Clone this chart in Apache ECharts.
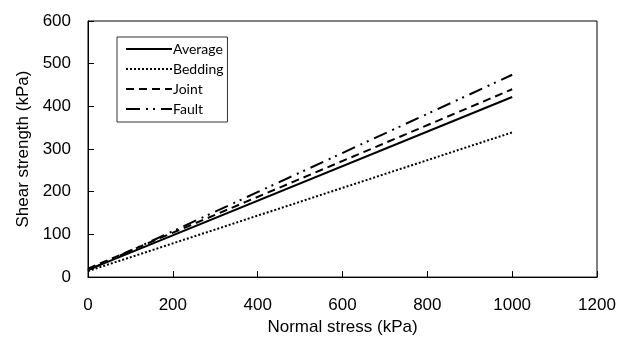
<!DOCTYPE html>
<html><head><meta charset="utf-8">
<script src="https://cdn.jsdelivr.net/npm/echarts@6/dist/echarts.min.js"></script>
<style>html,body{margin:0;padding:0;background:#fff}#c{width:628px;height:341px}</style>
</head><body><div id="c"></div>
<script>
const normalStress = [0, 1000];
const seriesNames = ["Average", "Bedding", "Joint", "Fault"];
const averageVals = [17, 422];
const beddingVals = [14, 339];
const jointVals = [20, 440];
const faultVals = [16, 474];
const xTicks = [0, 200, 400, 600, 800, 1000, 1200];
const yTicks = [0, 100, 200, 300, 400, 500, 600];

const styles = [
  {type: 'solid', width: 2},
  {type: [2, 2], width: 2},
  {type: [8, 5], width: 2},
  {type: [14, 6, 2, 5, 2, 6], width: 2}
];
const vals = [averageVals, beddingVals, jointVals, faultVals];

const chart = echarts.init(document.getElementById('c'));
chart.setOption({
  animation: false,
  grid: {left: 88, right: 31, top: 21, bottom: 62, show: true, borderColor: '#000', borderWidth: 1},
  legend: {
    left: 117, top: 37, orient: 'vertical',
    padding: [5, 4, 6, 8], itemGap: 6,
    borderColor: '#333', borderWidth: 1,
    itemWidth: 46, itemHeight: 13,
    itemStyle: {opacity: 0},
    textStyle: {fontFamily: 'Lato', fontSize: 14, color: '#000', padding: [0, 0, 0, -4]},
    data: seriesNames
  },
  xAxis: {
    type: 'value', min: xTicks[0], max: xTicks[xTicks.length - 1], interval: 200,
    name: 'Normal stress (kPa)', nameLocation: 'middle', nameGap: 40,
    nameTextStyle: {fontFamily: 'Liberation Sans', fontSize: 17, color: '#000'},
    axisLine: {lineStyle: {color: '#000'}},
    axisTick: {inside: true, length: 6, lineStyle: {color: '#000'}},
    axisLabel: {fontFamily: 'Liberation Sans', fontSize: 17, color: '#000', margin: 20, formatter: v => String(v)},
    splitLine: {show: false}
  },
  yAxis: {
    type: 'value', min: yTicks[0], max: yTicks[yTicks.length - 1], interval: 100,
    name: 'Shear strength (kPa)', nameLocation: 'middle', nameGap: 56,
    nameTextStyle: {fontFamily: 'Liberation Sans', fontSize: 17, color: '#000'},
    axisLine: {show: true, lineStyle: {color: '#000'}},
    axisTick: {show: true, inside: true, length: 6, lineStyle: {color: '#000'}},
    axisLabel: {fontFamily: 'Liberation Sans', fontSize: 17, color: '#000', margin: 17, formatter: v => String(v)},
    splitLine: {show: false}
  },
  series: seriesNames.map((n, i) => ({
    name: n, type: 'line', symbol: 'none',
    data: normalStress.map((x, j) => [x, vals[i][j]]),
    lineStyle: Object.assign({color: '#000'}, styles[i]),
    itemStyle: {color: '#000'}
  }))
});
</script></body></html>
